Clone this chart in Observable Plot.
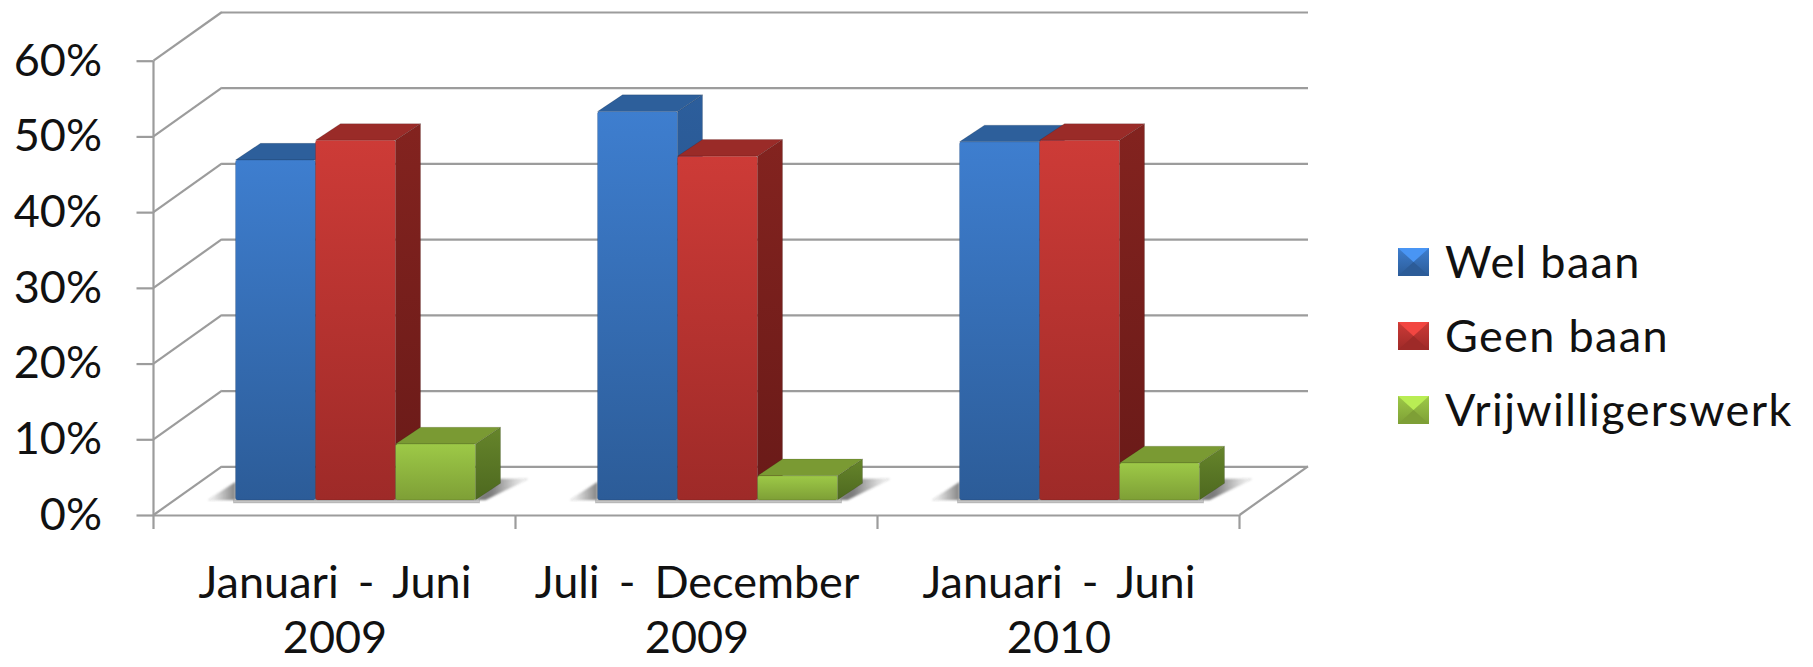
<!DOCTYPE html>
<html><head><meta charset="utf-8">
<script src="https://cdn.jsdelivr.net/npm/d3@7"></script>
<script src="https://cdn.jsdelivr.net/npm/@observablehq/plot@0.6"></script>
<style>
html,body{margin:0;background:#fff;}
#wrap{position:relative;width:1813px;height:667px;overflow:hidden;font-family:Lato,sans-serif;color:#111;}
#legend{position:absolute;left:1398px;top:0;}
.li{position:absolute;left:0;white-space:nowrap;display:block;}
.li svg{position:absolute;left:0;top:0;}
.li span{position:absolute;left:47px;font-size:45px;letter-spacing:1.35px;line-height:50px;top:-12px;}
[aria-label^="fx-axis"] text{word-spacing:7.5px;}
</style></head><body><div id="wrap"></div>
<script>
const periods = ["Januari - Juni\n2009", "Juli - December\n2009", "Januari - Juni\n2010"];
const series = ["Wel baan", "Geen baan", "Vrijwilligerswerk"];
const welBaan = [44.9, 51.3, 47.3];
const geenBaan = [47.5, 45.4, 47.5];
const vrijwilligerswerk = [7.4, 3.2, 4.9];
const yTicks = [0, 10, 20, 30, 40, 50, 60];
const seriesValues = [welBaan, geenBaan, vrijwilligerswerk];
const rows = series.flatMap((s, i) => periods.map((p, j) => ({series: s, period: p, value: seriesValues[i][j]})));

const palette = {
  gb: ["#3e7ecf", "#2c5c98"], gr: ["#cd3b37", "#9e2a28"], gg: ["#9dc947", "#7e9f36"],
  sb: ["#2c5e9c", "#234a7c"], sr: ["#83231f", "#691a18"], sg: ["#66852b", "#4d681f"]
};
const topFill = {gb: "#2d5f9b", gr: "#9a2b28", gg: "#7a9a33"};
const fronts = ["gb", "gr", "gg"], sides = ["sb", "sr", "sg"];

const wallDX = 68.5, wallDY = -48.7, barDX = 21, barDY = -15, depthDX = 25, depthDY = -16.7, grid = "#9c9c9c", gridW = 2.2;

// shared gradients
const defsSvg = d3.select("body").append("svg").attr("width", 0).attr("height", 0).style("position", "absolute");
const defs = defsSvg.append("defs");
for (const [id, [a, b]] of Object.entries(palette)) {
  const g = defs.append("linearGradient").attr("id", id).attr("x1", 0).attr("y1", 0).attr("x2", 0).attr("y2", 1);
  g.append("stop").attr("offset", 0).attr("stop-color", a);
  g.append("stop").attr("offset", 1).attr("stop-color", b);
}
const sl = defs.append("linearGradient").attr("id", "shL");
sl.append("stop").attr("offset", 0).attr("stop-color", "#777").attr("stop-opacity", 0);
sl.append("stop").attr("offset", 1).attr("stop-color", "#777").attr("stop-opacity", 0.9);
const sr = defs.append("linearGradient").attr("id", "shR");
sr.append("stop").attr("offset", 0.3).attr("stop-color", "#666").attr("stop-opacity", 0.85);
sr.append("stop").attr("offset", 1).attr("stop-color", "#777").attr("stop-opacity", 0);
defs.append("filter").attr("id", "soft").append("feGaussianBlur").attr("stdDeviation", 1);

function bars3d(index, scales, values, dim, ctx, next) {
  const g = next(index, scales, values, dim, ctx);
  const rects = d3.select(g).selectAll("rect").nodes();
  if (!rects.length) return g;
  const box = r => ({x: +r.getAttribute("x"), y: +r.getAttribute("y"), w: +r.getAttribute("width"), h: +r.getAttribute("height")});
  const host = rects[0].parentNode;
  const first = box(rects[0]), last = box(rects[rects.length - 1]);
  const base = first.y + first.h;
  const before = (ref, tag, attrs) => {
    const el = document.createElementNS("http://www.w3.org/2000/svg", tag);
    for (const k in attrs) el.setAttribute(k, attrs[k]);
    host.insertBefore(el, ref);
  };
  before(rects[0], "polygon", {points: `${first.x - 27},${base} ${first.x},${base - 18} ${first.x},${base}`, fill: "url(#shL)", filter: "url(#soft)"});
  const rx = last.x + last.w;
  before(rects[0], "polygon", {points: `${rx},${base} ${rx + depthDX},${base - 21} ${rx + 52},${base - 21} ${rx + 10},${base}`, fill: "url(#shR)", filter: "url(#soft)"});
  before(rects[0], "rect", {x: first.x - 2, y: base, width: rx - first.x + 6, height: 3, fill: "#c4c4c4"});
  rects.forEach((r, i) => {
    const b = box(r), right = b.x + b.w, bottom = b.y + b.h;
    before(r, "polygon", {points: `${right},${b.y} ${right + depthDX},${b.y + depthDY} ${right + depthDX},${bottom + depthDY} ${right},${bottom}`, fill: `url(#${sides[i]})`});
    before(r, "polygon", {points: `${b.x},${b.y} ${b.x + depthDX},${b.y + depthDY} ${right + depthDX},${b.y + depthDY} ${right},${b.y}`, fill: topFill[fronts[i]]});
    r.setAttribute("rx", 2);
  });
  return g;
}

function frameLines(index, scales, values, dim) {
  const g = d3.create("svg:g").attr("stroke", grid).attr("stroke-width", gridW).attr("fill", "none");
  const L = dim.marginLeft, R = dim.width - dim.marginRight, y = scales.y, y0 = y(0);
  const ln = (x1, y1, x2, y2) => g.append("line").attr("x1", x1).attr("y1", y1).attr("x2", x2).attr("y2", y2);
  for (const t of yTicks) ln(L, y(t), L + wallDX, y(t) + wallDY);
  ln(R, y0, R + wallDX, y0 + wallDY);
  ln(L, y(yTicks[yTicks.length - 1]), L, y0);
  const last = periods[periods.length - 1];
  periods.forEach(p => ln(scales.fx(p), y0, scales.fx(p), y0 + 14));
  ln(scales.fx(last) + scales.fx.bandwidth(), y0, scales.fx(last) + scales.fx.bandwidth(), y0 + 14);
  return g.node();
}

const chart = Plot.plot({
  width: 1813, height: 667,
  marginLeft: 153.5, marginRight: 573.5, marginTop: 60.7, marginBottom: 152,
  style: {fontFamily: "Lato, sans-serif", color: "#111", background: "#fff"},
  fx: {domain: periods, padding: 0, round: false, label: null},
  x: {domain: series, paddingInner: 0, paddingOuter: 0.7625, round: false, axis: null},
  y: {domain: [0, 60], nice: false, label: null},
  color: {domain: series, range: fronts.map(f => `url(#${f})`)},
  marks: [
    Plot.ruleY(yTicks, {dx: wallDX, dy: wallDY, stroke: grid, strokeWidth: gridW}),
    Plot.ruleY([0], {stroke: grid, strokeWidth: gridW}),
    Plot.frame({facet: "super", stroke: "none", render: frameLines}),
    Plot.axisY({ticks: yTicks, tickFormat: d => d + "%", tickSize: 17, tickPadding: 35, fontSize: 45, stroke: grid, strokeWidth: gridW, strokeOpacity: 1, fill: "#111", label: null}),
    Plot.axisFx({anchor: "bottom", tickSize: 0, tickPadding: 44, fontSize: 45, lineHeight: 1.22, fill: "#111", label: null}),
    Plot.barY(rows, {fx: "period", x: "series", y: "value", fill: "series", stroke: "rgba(0,0,0,0.12)", strokeWidth: 1, dx: barDX, dy: barDY, render: bars3d})
  ]
});
const wrap = document.getElementById("wrap");
wrap.appendChild(chart);

// legend
const legendTops = [248, 322, 396];
const legend = d3.select(wrap).append("div").attr("id", "legend");
series.forEach((s, i) => {
  const it = legend.append("div").attr("class", "li").style("top", legendTops[i] + "px");
  const sv = it.append("svg").attr("width", 31).attr("height", 28).attr("viewBox", "0 0 31 28");
  const [lite, dark] = palette[fronts[i]];
  sv.append("rect").attr("width", 31).attr("height", 28).attr("fill", `url(#${fronts[i]})`);
  sv.append("polygon").attr("points", "0,0 31,0 15.5,14").attr("fill", lite).attr("style", "filter:brightness(1.18)");
  sv.append("polygon").attr("points", "0,28 31,28 15.5,14").attr("fill", dark);
  it.append("span").text(s);
});
</script></body></html>
